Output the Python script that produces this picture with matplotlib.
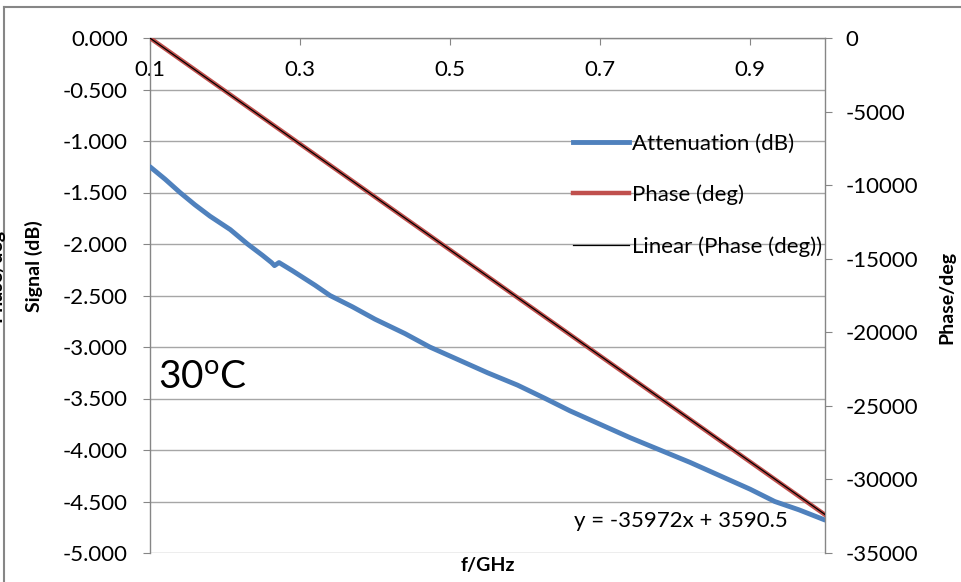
"""Attenuation and phase versus frequency at 30 C."""

import matplotlib

matplotlib.use("Agg")

import matplotlib.pyplot as plt
import numpy as np
from matplotlib.lines import Line2D

plt.rcParams["font.family"] = ["Lato", "DejaVu Sans"]
plt.rcParams["mathtext.fontset"] = "custom"
plt.rcParams["mathtext.rm"] = "Lato"

# measured attenuation (dB) vs frequency (GHz)
freq_att = [0.100, 0.120, 0.140, 0.160, 0.180, 0.207, 0.230, 0.250, 0.262, 0.266,
            0.272, 0.290, 0.320, 0.340, 0.370, 0.400, 0.440, 0.473, 0.510, 0.550,
            0.590, 0.627, 0.660, 0.700, 0.740, 0.780, 0.820, 0.860, 0.900, 0.933,
            0.965, 1.000]
att_db = [-1.25, -1.37, -1.50, -1.62, -1.73, -1.86, -2.00, -2.11, -2.18, -2.21,
          -2.18, -2.26, -2.40, -2.50, -2.61, -2.73, -2.87, -3.00, -3.12, -3.25,
          -3.37, -3.50, -3.62, -3.75, -3.88, -4.00, -4.12, -4.25, -4.38, -4.50,
          -4.58, -4.68]

# measured phase (deg)
freq_phase = [0.10, 0.25, 0.40, 0.55, 0.70, 0.85, 1.00]
phase_deg = [0, -5400, -10800, -16200, -21600, -27000, -32400]

# linear trendline of the phase
trend_slope = -35972
trend_intercept = 3590.5

x_ticks = [0.1, 0.3, 0.5, 0.7, 0.9]
left_ticks = np.arange(-5.0, 0.01, 0.5)
right_ticks = np.arange(-35000, 1, 5000)

GRID = "#a6a6a6"
AXIS = "#868686"
BLUE = "#4f81bd"
RED = "#c0504d"

fig = plt.figure(figsize=(9.61, 5.82), dpi=100)
ax = fig.add_axes([150 / 961, 1 - 553 / 582, 675 / 961, 515 / 582])
ax2 = ax.twinx()

ax.plot(freq_att, att_db, color=BLUE, lw=3.5, solid_capstyle="round",
        solid_joinstyle="round", zorder=3)
ax2.plot(freq_phase, phase_deg, color=RED, lw=3.2, zorder=3)
fx = np.array([freq_phase[0], freq_phase[-1]])
ax2.plot(fx, trend_slope * fx + trend_intercept, color="black", lw=0.9, zorder=4)

ax.set_xlim(0.1, 1.0)
ax.set_ylim(-5.0, 0.0)
ax2.set_ylim(-35000, 0)

ax.set_yticks(left_ticks)
ax.set_yticklabels([f"{v:.3f}" for v in left_ticks])
ax2.set_yticks(right_ticks)
ax2.set_yticklabels([f"{int(v)}" for v in right_ticks])
ax.set_xticks(x_ticks)
ax.set_xticklabels([f"{v:.1f}" for v in x_ticks])

ax.spines["bottom"].set_position(("data", 0))
for sp in ("top", "right"):
    ax.spines[sp].set_visible(False)
for sp in ("top", "bottom", "left"):
    ax2.spines[sp].set_visible(False)
for sp in (ax.spines["bottom"], ax.spines["left"], ax2.spines["right"]):
    sp.set_color(AXIS)
    sp.set_linewidth(1.0)

ax.yaxis.grid(True, color=GRID, lw=1.0)
ax.set_axisbelow(True)

ax.tick_params(axis="y", direction="out", length=5, color=AXIS,
               labelsize=16, pad=11)
ax.tick_params(axis="x", direction="out", length=5, color=AXIS,
               labelsize=16, pad=11)
ax2.tick_params(axis="y", direction="out", length=5, color=AXIS,
                labelsize=16, pad=10)

fig.text(34 / 961, 1 - 266 / 582, "Signal (dB)", fontsize=14,
         fontweight="bold", rotation=90, ha="center", va="center")
fig.text(947 / 961, 1 - 297 / 582, "Phase/deg", fontsize=14,
         fontweight="bold", rotation=90, ha="center", va="center")
fig.text(488 / 961, 1 - 565 / 582, "f/GHz", fontsize=14, fontweight="bold",
         ha="center", va="center")
fig.text(-4 / 961, 1 - 275 / 582, "Phase/deg", fontsize=14, fontweight="bold",
         rotation=90, ha="center", va="center")

ax.text(0.111, -3.30, r"30$^{\mathrm{o}}$C", fontsize=28, va="center", ha="left")
fig.text(574 / 961, 1 - 521 / 582, "y = -35972x + 3590.5", fontsize=16,
         ha="left", va="center")

handles = [
    Line2D([], [], color=BLUE, lw=3.5),
    Line2D([], [], color=RED, lw=3.2),
    Line2D([], [], color="black", lw=0.9),
]
labels = ["Attenuation (dB)", "Phase (deg)", "Linear (Phase (deg))"]
fig.legend(handles, labels, loc="upper left",
           bbox_to_anchor=(553 / 961, 1 - 114 / 582), frameon=False,
           fontsize=16, handlelength=2.5, handletextpad=0.14, labelspacing=1.38)

# chart-area border (cropped)
fig.add_artist(Line2D([4 / 961, 4 / 961], [0, 1 - 7 / 582], color=AXIS,
                      lw=1.5, transform=fig.transFigure))
fig.add_artist(Line2D([4 / 961, 1], [1 - 7 / 582, 1 - 7 / 582], color=AXIS,
                      lw=1.5, transform=fig.transFigure))

fig.savefig("out.png", dpi=100)
plt.close(fig)
